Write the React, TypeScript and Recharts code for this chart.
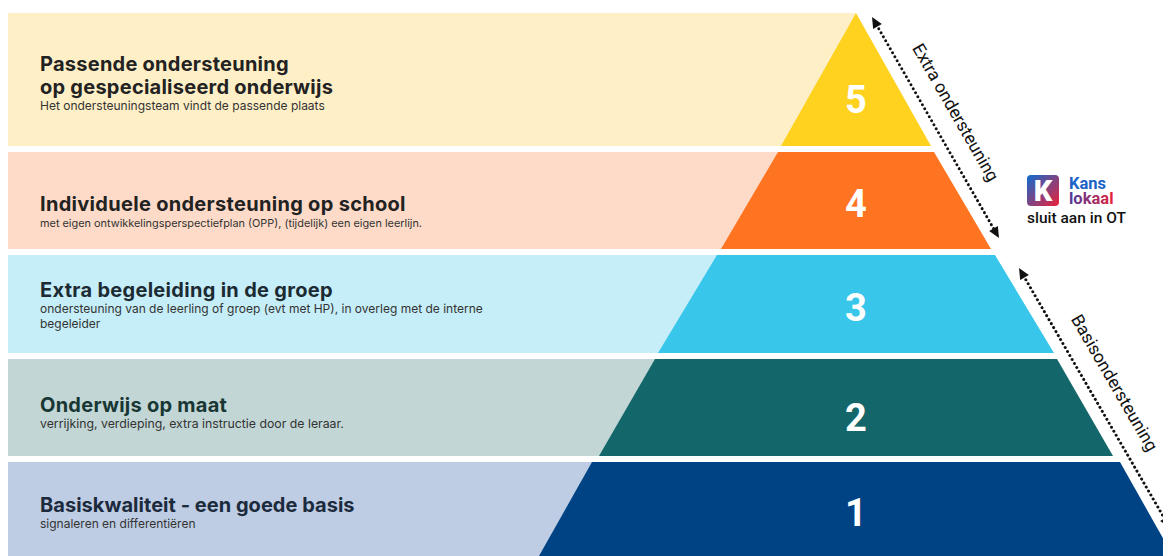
import { ComposedChart, Area, XAxis, YAxis, ReferenceLine, ReferenceDot } from "recharts";

// niveaus van onder (1) naar boven (5)
const levels = ["1", "2", "3", "4", "5"];
const titles = [
  ["Basiskwaliteit - een goede basis"],
  ["Onderwijs op maat"],
  ["Extra begeleiding in de groep"],
  ["Individuele ondersteuning op school"],
  ["Passende ondersteuning", "op gespecialiseerd onderwijs"],
];
const subtitles = [
  ["signaleren en differentiëren"],
  ["verrijking, verdieping, extra instructie door de leraar."],
  [
    "ondersteuning van de leerling of groep (evt met HP), in overleg met de interne",
    "begeleider",
  ],
  ["met eigen ontwikkelingsperspectiefplan (OPP), (tijdelijk) een eigen leerlijn."],
  ["Het ondersteuningsteam vindt de passende plaats"],
];

// hoogte (onderkant/bovenkant) van elke laag, en halve breedte van de piramide daar
const bandBottom = [0, 100, 203, 307, 410];
const bandTop = [94, 197, 301, 404, 543];
const halfWidthBottom = [317, 257, 198, 135, 75];
const halfWidthTop = [264, 201, 139, 78, 0];
const numberHeight = [43, 138, 248, 352, 456];

// pijlen rechts
const arrowLabels = ["Extra ondersteuning", "Basisondersteuning"];
const arrowStart = [
  { x: 16, y: 539 },
  { x: 163, y: 288 },
];
const arrowEnd = [
  { x: 143, y: 318 },
  { x: 314, y: 28 },
];

const X_MIN = -848;
const X_MAX = 315;

const pyramidColors = ["#004385", "#13666A", "#38C6EA", "#FF7420", "#FFD21F"];
const bandColors = ["#BECDE3", "#C2D6D5", "#C6EEF8", "#FDDBC8", "#FEEFC7"];
const titleColors = ["#1b2a3c", "#173634", "#1c2b33", "#222222", "#222222"];
const titleOffset = [50, 52.5, 42, 58.7, 57.7];
const titleSpacing = [0.03, 0.25, 0.3, 0.3, 0.25];
const subSize = [12, 12.3, 12, 10.9, 12];
const TEXT_LEFT = 32;

const layerData = levels.map((_, i) => [
  { h: bandBottom[i], x: [-halfWidthBottom[i], halfWidthBottom[i]] },
  { h: bandTop[i], x: [-halfWidthTop[i], halfWidthTop[i]] },
]);
const bandData = levels.map((_, i) => [
  { h: bandBottom[i], x: [X_MIN, 0] },
  { h: bandTop[i], x: [X_MIN, 0] },
]);

const BandText = ({ cx, cy, i }: any) => {
  const tb = cy + titleOffset[i];
  const lastTitle = tb + (titles[i].length - 1) * 23.5;
  return (
    <g>
      {titles[i].map((t, k) => (
        <text
          key={t}
          x={cx + TEXT_LEFT}
          y={tb + k * 23.5}
          fontFamily="Inter"
          fontWeight={700}
          fontSize={20}
          letterSpacing={titleSpacing[i]}
          fill={titleColors[i]}
        >
          {t}
        </text>
      ))}
      {subtitles[i].map((t, k) => (
        <text
          key={t}
          x={cx + TEXT_LEFT}
          y={lastTitle + 16 + k * 15}
          fontFamily="Inter"
          fontSize={subSize[i]}
          fill="#333"
        >
          {t}
        </text>
      ))}
    </g>
  );
};

const DottedArrow = ({ x1, y1, x2, y2, label }: any) => {
  const dx = x2 - x1;
  const dy = y2 - y1;
  const len = Math.sqrt(dx * dx + dy * dy);
  const ux = dx / len;
  const uy = dy / len;
  const px = -uy;
  const py = ux;
  const head = (x: number, y: number, dir: number) => {
    const bx = x - ux * 11 * dir;
    const by = y - uy * 11 * dir;
    return `${x},${y} ${bx + px * 5},${by + py * 5} ${bx - px * 5},${by - py * 5}`;
  };
  const mx = (x1 + x2) / 2 - px * 25 - ux * 3;
  const my = (y1 + y2) / 2 - py * 25 - uy * 3;
  const angle = (Math.atan2(dy, dx) * 180) / Math.PI;
  return (
    <g>
      <line
        x1={x1 + ux * 9}
        y1={y1 + uy * 9}
        x2={x2 - ux * 9}
        y2={y2 - uy * 9}
        stroke="#111"
        strokeWidth={3}
        strokeDasharray="0.01 4.6"
        strokeLinecap="round"
      />
      <polygon points={head(x1, y1, -1)} fill="#111" />
      <polygon points={head(x2, y2, 1)} fill="#111" />
      <text
        x={mx}
        y={my}
        textAnchor="middle"
        dominantBaseline="central"
        fontFamily="Roboto"
        fontSize={17.5}
        fill="#111"
        transform={`rotate(${angle}, ${mx}, ${my})`}
      >
        {label}
      </text>
    </g>
  );
};

const Logo = ({ cx, cy }: any) => (
  <g>
    <defs>
      <linearGradient id="kBox" x1="0" y1="0" x2="1" y2="1">
        <stop offset="0%" stopColor="#0D6BD0" />
        <stop offset="100%" stopColor="#EE1F37" />
      </linearGradient>
      <linearGradient id="kText" x1="0" y1="0" x2="1" y2="0">
        <stop offset="0%" stopColor="#4A3C9E" />
        <stop offset="100%" stopColor="#E5203A" />
      </linearGradient>
    </defs>
    <rect x={cx} y={cy} width={32} height={31} rx={4} fill="url(#kBox)" />
    <text
      x={cx + 16}
      y={cy + 26}
      textAnchor="middle"
      fontFamily="Roboto"
      fontWeight={900}
      fontSize={29}
      fill="#fff"
    >
      K
    </text>
    <text x={cx + 42} y={cy + 14} fontFamily="Roboto" fontWeight={700} fontSize={16.5} fill="#1B63C6">
      Kans
    </text>
    <text x={cx + 42} y={cy + 29} fontFamily="Roboto" fontWeight={700} fontSize={16.5} fill="url(#kText)">
      lokaal
    </text>
    <text x={cx} y={cy + 48} fontFamily="Roboto" fontWeight={500} fontSize={15.5} fill="#111">
      sluit aan in OT
    </text>
  </g>
);

export default function App() {
  return (
    <ComposedChart
      width={1163}
      height={548}
      layout="vertical"
      margin={{ top: 0, right: 0, bottom: 0, left: 0 }}
    >
      <XAxis type="number" domain={[X_MIN, X_MAX]} hide allowDataOverflow />
      <YAxis type="number" dataKey="h" domain={[0, 548]} hide allowDataOverflow reversed />
      {bandData.map((d, i) => (
        <Area
          key={`band-${i}`}
          data={d}
          dataKey="x"
          type="linear"
          stroke="none"
          fill={bandColors[i]}
          fillOpacity={1}
          dot={false}
          activeDot={false}
          isAnimationActive={false}
        />
      ))}
      {layerData.map((d, i) => (
        <Area
          key={`layer-${i}`}
          data={d}
          dataKey="x"
          type="linear"
          stroke="none"
          fill={pyramidColors[i]}
          fillOpacity={1}
          dot={false}
          activeDot={false}
          isAnimationActive={false}
        />
      ))}
      {levels.map((n, i) => (
        <ReferenceDot
          key={`num-${n}`}
          x={0}
          y={numberHeight[i]}
          ifOverflow="visible"
          shape={(p: any) => (
            <text
              x={p.cx}
              y={p.cy}
              textAnchor="middle"
              dominantBaseline="central"
              fontFamily="Roboto"
              fontWeight={700}
              fontSize={38}
              fill="#fff"
            >
              {n}
            </text>
          )}
        />
      ))}
      {levels.map((n, i) => (
        <ReferenceDot
          key={`txt-${n}`}
          x={X_MIN}
          y={bandTop[i]}
          ifOverflow="visible"
          shape={(p: any) => <BandText cx={p.cx} cy={p.cy} i={i} />}
        />
      ))}
      {arrowLabels.map((label, i) => (
        <ReferenceLine
          key={label}
          segment={[arrowStart[i], arrowEnd[i]]}
          ifOverflow="visible"
          shape={(p: any) => <DottedArrow {...p} label={label} />}
        />
      ))}
      <ReferenceDot
        x={171}
        y={381}
        ifOverflow="visible"
        shape={(p: any) => <Logo cx={p.cx} cy={p.cy} />}
      />
    </ComposedChart>
  );
}
